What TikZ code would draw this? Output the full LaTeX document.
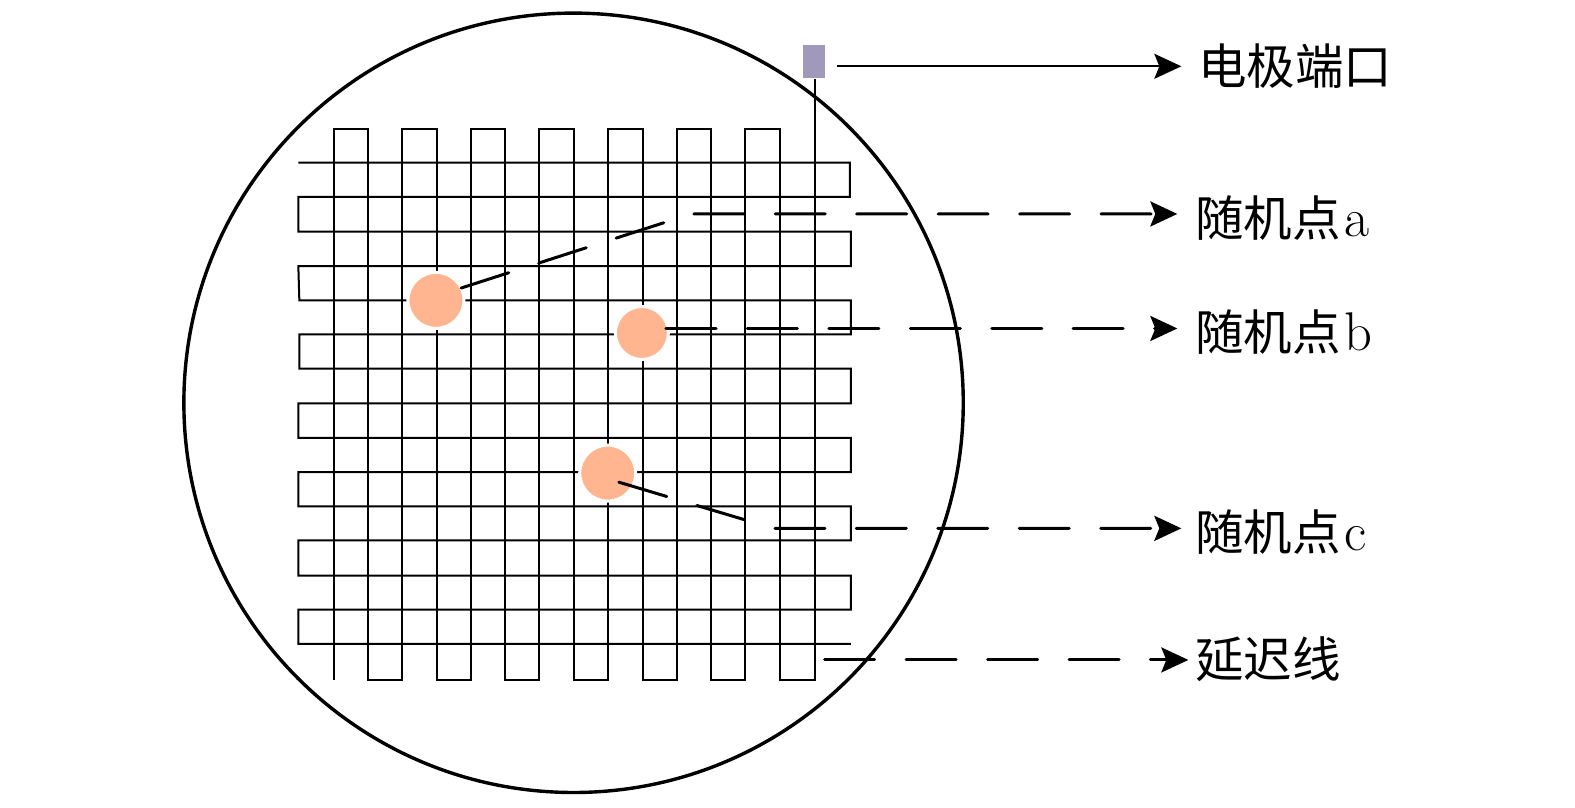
\documentclass[tikz,border=0pt]{standalone}
\usepackage{fontspec}
\usepackage{xcolor}
\usetikzlibrary{arrows.meta}
\newfontfamily\cjk{Noto Sans CJK SC}
\definecolor{portcolor}{RGB}{160,153,185}
\definecolor{pointcolor}{RGB}{255,182,144}
\newcommand{\latintag}[1]{\hspace{1pt}{\rmfamily\fontsize{15.5}{16}\selectfont #1}}
\tikzset{
	meander/.style={line width=0.02cm, line join=miter},
	wafer/.style={circle, draw, line width=0.034cm, inner sep=0pt, minimum size=7.79cm},
	portbox/.style={rectangle, fill=portcolor, inner sep=0pt, minimum width=0.215cm, minimum height=0.325cm},
	randpoint/.style={circle, fill=pointcolor, draw=white, line width=0.03cm, inner sep=0pt, outer sep=0pt},
	leader/.style={->, line width=0.03cm, dash pattern=on 0.5cm off 0.314cm, line cap=round},
	tag/.style={anchor=west, inner sep=0pt, font=\fontsize{13.8}{16}\selectfont},
}
\begin{document}
\begin{tikzpicture}[x=0.010045cm,y=-0.010045cm,>={Stealth[length=0.27cm,width=0.25cm,inset=0.05cm]}]
	\useasboundingbox (0,0) rectangle (1567.96,803.4);
	%% ========================================================
	\node[wafer] (wafer) at (571,401) {};
	\node[portbox] (port) at (810.5,61) {};

	%% row line
	\draw[meander] (297,162) -- (846,162) -- (846,196) -- (297,196) -- (297,230.5) -- (847,230.5)
		-- (847,265) -- (297,265) -- (298,299) -- (847,299) -- (847,333) -- (298,333)
		-- (298,367) -- (847,367) -- (847,401.5) -- (297,401.5) -- (297,436) -- (847,436)
		-- (847,470) -- (297,470) -- (297,504) -- (847,504) -- (847,538) -- (297,538)
		-- (297,573) -- (847,573) -- (847,607) -- (297,607) -- (297,641) -- (847,641);
	%% column line
	\draw[meander] (332.5,677) -- (332.5,128) -- (366,128) -- (366,677) -- (400,677) -- (400,128)
		-- (435,128) -- (435,677) -- (469,677) -- (469,128) -- (503,128) -- (503,677)
		-- (537,677) -- (537,128) -- (571,128) -- (571,677) -- (605,677) -- (605,128)
		-- (640,128) -- (640,677) -- (674,677) -- (674,128) -- (708,128) -- (708,677)
		-- (742,677) -- (742,128) -- (777,128) -- (777,677) -- (811,677) -- (811,79);

	%% ========================================================
	\node[randpoint, minimum size=0.56cm] (pta) at (434,299) {};
	\node[randpoint, minimum size=0.53cm] (ptb) at (639,331.5) {};
	\node[randpoint, minimum size=0.56cm] (ptc) at (605,471) {};

	\node[tag] (portlabel) at (1192,66) {\cjk 电极端口};
	\node[tag] (alabel) at (1189,217) {\cjk 随机点\latintag{a}};
	\node[tag] (blabel) at (1189,331) {\cjk 随机点\latintag{b}};
	\node[tag] (clabel) at (1189,530) {\cjk 随机点\latintag{c}};
	\node[tag] (delaylabel) at (1189,656) {\cjk 延迟线};

	%% ========================================================
	\coordinate (portout) at (833,66);
	\coordinate (acorner) at (688,213);
	\coordinate (bstart) at (663,327);
	\coordinate (cstart) at (616,480);
	\coordinate (ccorner) at (770,526);
	\coordinate (delaystart) at (821,657);

	\draw[->, line width=0.02cm, shorten >=0.16cm] (portout) -- (portout -| portlabel.west);
	\draw[leader, shorten >=0.17cm] (pta.26) -- (acorner) -- (acorner -| alabel.west);
	\draw[leader, shorten >=0.17cm] (bstart) -- (bstart -| blabel.west);
	\draw[leader, shorten >=0.13cm] (cstart) -- (ccorner) -- (ccorner -| clabel.west);
	\draw[leader, shorten >=0.06cm] (delaystart) -- (delaystart -| delaylabel.west);
	%% ========================================================
\end{tikzpicture}
\end{document}
